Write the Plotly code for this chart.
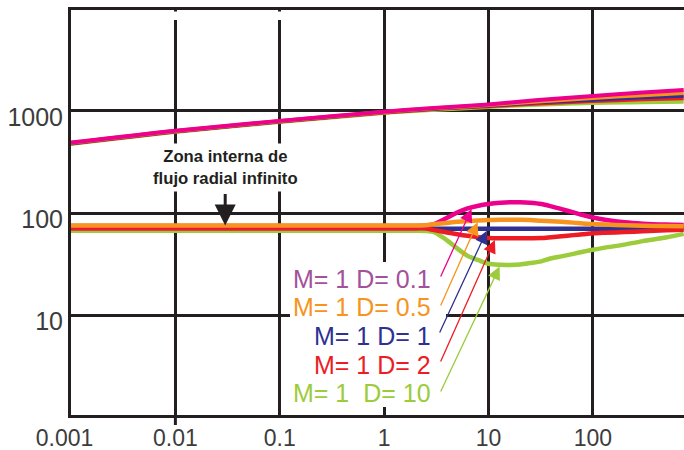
import math
import numpy as np
import plotly.graph_objects as go

# ---- figure geometry ----
FIG_W, FIG_H = 684, 450
M_L, M_R, M_T, M_B = 71, 0, 10, 35
X_RANGE = [-3.0, 2.872]   # log10 of time
Y_RANGE = [0.02, 3.99]    # log10 of pressure / derivative

# ---- axis ticks ----
x_tickvals = [0.001, 0.01, 0.1, 1, 10, 100]
x_ticktext = ["0.001\u00a0\u00a0", "0.01", "0.1", "1", "10", "100"]
y_tickvals = [10, 100, 1000]
y_ticktext = ["10", "100", "1000"]

# ---- pressure curves (upper family) ----
t_p = [0.001, 0.01, 0.1, 1, 3, 10, 30, 100, 300, 740]
p_d01 = [490, 640, 800, 985, 1070, 1160, 1280, 1400, 1520, 1610]
p_d05 = [487, 636, 796, 980, 1062, 1145, 1240, 1340, 1430, 1500]
p_d1 = [484, 632, 792, 975, 1054, 1130, 1215, 1290, 1360, 1410]
p_d2 = [481, 628, 788, 968, 1046, 1115, 1185, 1250, 1300, 1330]
p_d10 = [475, 622, 780, 955, 1025, 1095, 1150, 1200, 1215, 1235]

# ---- derivative curves (lower family) ----
t_d = [0.001, 0.01, 0.1, 1, 1.8, 2.5, 3, 4, 5, 6.3, 8, 10, 13, 16, 20, 25,
       32, 40, 50, 65, 80, 100, 130, 200, 300, 500, 740]
d_d01 = [74.5, 74.5, 74.5, 74.5, 74.5, 75.5, 78, 90, 101, 111, 118, 122.5,
         126, 127.5, 127.5, 126, 122.5, 116, 109, 101.5, 95.5, 90.5, 86,
         81, 78.5, 77, 76.5]
d_d05 = [75.5, 75.5, 75.5, 75.5, 75.5, 76, 77.5, 80, 82, 83.5, 84.5, 85.3,
         86, 86, 86, 85.5, 84, 83, 82, 80.5, 79, 78, 77, 76, 75, 74.5, 74]
d_d1 = [70, 70, 70, 70, 70, 70, 70, 70, 70, 70, 70, 70, 70, 70, 70, 70,
        70, 70, 70, 70, 70, 70, 70, 70.3, 70.5, 70.8, 71]
d_d2 = [70.5, 70.5, 70.5, 70.5, 70.5, 70.5, 68, 64.5, 62, 59.8, 58, 57,
        56.6, 56.5, 56.5, 56.6, 56.8, 58, 59.2, 60.7, 61.9, 63.2, 64, 65.1,
        66.2, 67.6, 68.5]
d_d10 = [67, 67, 67, 67, 67, 66.8, 65, 54, 45, 38, 34.5, 31.8, 31.1, 31,
         31.3, 32.3, 33.6, 36, 37.6, 39.8, 41.7, 43.7, 45.8, 49, 53, 57.5,
         62.5]

# ---- series labels ----
labels = ["M= 1 D= 0.1", "M= 1 D= 0.5", "M= 1 D= 1", "M= 1 D= 2", "M= 1  D= 10"]
line_colors = ["#EC008C", "#F7941D", "#2E3192", "#ED1C24", "#9CCB3B"]
text_colors = ["#A3519B", "#F7941D", "#2E3192", "#ED1C24", "#9CCB3B"]
arrow_t = [7.0, 8.0, 9.8, 11.7, 13.0]     # time where each pointer meets its curve

FONT = "Liberation Sans, Arial, sans-serif"
INK = "#231F20"

plot_w = FIG_W - M_L - M_R
plot_h = FIG_H - M_T - M_B


def to_px(x, y):
    """Data value -> page pixel for the log/log plot area."""
    px = M_L + (math.log10(x) - X_RANGE[0]) / (X_RANGE[1] - X_RANGE[0]) * plot_w
    py = M_T + (Y_RANGE[1] - math.log10(y)) / (Y_RANGE[1] - Y_RANGE[0]) * plot_h
    return px, py


def px_to_paper(px, py):
    return (px - M_L) / plot_w, (FIG_H - M_B - py) / plot_h


def curve_at(ts, vs, t):
    return 10 ** np.interp(math.log10(t), np.log10(ts), np.log10(vs))


fig = go.Figure()

press = [p_d01, p_d05, p_d1, p_d2, p_d10]
deriv = [d_d01, d_d05, d_d1, d_d2, d_d10]

# pressure family: green at the bottom of the stack, magenta on top
for i in [4, 3, 2, 1, 0]:
    fig.add_trace(go.Scatter(x=t_p, y=press[i], mode="lines",
                             line=dict(color=line_colors[i], width=4, shape="spline", smoothing=0.8),
                             hoverinfo="skip"))

# derivative family
for i in [2, 4, 3, 0, 1]:
    fig.add_trace(go.Scatter(x=t_d, y=deriv[i], mode="lines",
                             line=dict(color=line_colors[i], width=4.5, shape="spline", smoothing=0.8),
                             hoverinfo="skip"))

annotations = []

# label block (right aligned) with pointers to each derivative curve
label_right_px = 433
label_mid_px = [278.5, 307, 335.5, 364.5, 393]
tail_px = [(440, 278), (440, 307), (439, 334), (440, 363), (440, 393)]
for i in range(5):
    lx, ly = px_to_paper(label_right_px, label_mid_px[i])
    annotations.append(dict(
        xref="paper", yref="paper", x=lx, y=ly,
        xanchor="right", yanchor="middle", showarrow=False,
        text=labels[i], font=dict(family=FONT, size=25, color=text_colors[i])))
    tip_y = curve_at(t_d, deriv[i], arrow_t[i])
    tx, ty = to_px(arrow_t[i], tip_y)
    annotations.append(dict(
        xref="x", yref="y", x=math.log10(arrow_t[i]), y=math.log10(tip_y),
        text="", showarrow=True, axref="pixel", ayref="pixel",
        ax=tail_px[i][0] - tx, ay=tail_px[i][1] - ty,
        arrowhead=2, arrowsize=2.0, arrowwidth=1.3, arrowcolor=line_colors[i],
        standoff=2))

# infinite-acting radial flow callout
zona_t = 0.03
annotations.append(dict(
    xref="x", yref="y", x=math.log10(zona_t), y=math.log10(280),
    text="<b>Zona interna de<br>flujo radial infinito</b>", showarrow=False,
    font=dict(family=FONT, size=16.7, color=INK), bgcolor="white", borderpad=3,
    align="center"))
zy = curve_at(t_d, d_d05, zona_t)
annotations.append(dict(
    xref="x", yref="y", x=math.log10(zona_t), y=math.log10(zy),
    text="", showarrow=True, axref="pixel", ayref="pixel", ax=0, ay=-33,
    arrowhead=2, arrowsize=1.4, arrowwidth=3, arrowcolor=INK))

shapes = []

# white panel behind the label block
bx0, by1 = px_to_paper(290, 262)
bx1, by0 = px_to_paper(446, 407)
shapes.append(dict(type="rect", xref="paper", yref="paper", layer="above",
                   x0=bx0, x1=bx1, y0=by0, y1=by1,
                   line=dict(width=0), fillcolor="white"))

# the first vertical grid lines stop just short of the top frame
gx0, gy1 = px_to_paper(120, 11.6)
gx1, gy0 = px_to_paper(330, 20)
shapes.append(dict(type="rect", xref="paper", yref="paper", layer="above",
                   x0=gx0, x1=gx1, y0=gy0, y1=gy1,
                   line=dict(width=0), fillcolor="white"))

# short outside tick under 0.01
tick_px, _ = to_px(0.01, 1)
tkx, _ = px_to_paper(tick_px, 0)
_, tky = px_to_paper(0, FIG_H - M_B + 10)
shapes.append(dict(type="line", xref="paper", yref="paper", layer="above",
                   x0=tkx, x1=tkx, y0=0, y1=tky,
                   line=dict(color=INK, width=3)))

fig.update_layout(
    width=FIG_W, height=FIG_H,
    margin=dict(l=M_L, r=M_R, t=M_T, b=M_B),
    paper_bgcolor="white", plot_bgcolor="white",
    showlegend=False,
    annotations=annotations, shapes=shapes,
    xaxis=dict(type="log", range=X_RANGE, tickvals=x_tickvals, ticktext=x_ticktext,
               showgrid=True, gridcolor=INK, gridwidth=3, zeroline=False,
               showline=True, linecolor=INK, linewidth=3, mirror=True,
               ticks="", tickfont=dict(family=FONT, size=23, color="#3C3C3C")),
    yaxis=dict(type="log", range=Y_RANGE, tickvals=y_tickvals, ticktext=y_ticktext,
               showgrid=True, gridcolor=INK, gridwidth=3, zeroline=False,
               showline=True, linecolor=INK, linewidth=3, mirror=False,
               ticks="", ticklabelshift=6, ticklabelstandoff=0,
               tickfont=dict(family=FONT, size=25, color="#3C3C3C")),
)

fig.write_html("out.html")
